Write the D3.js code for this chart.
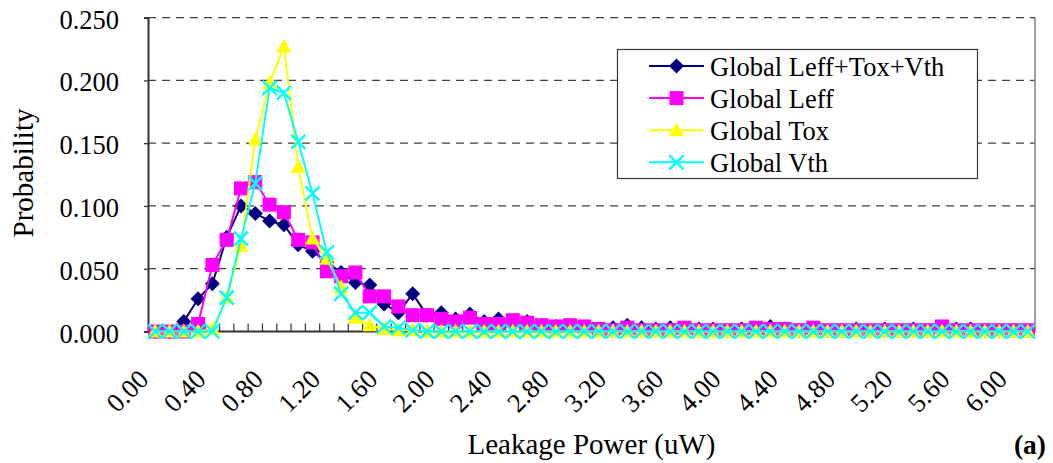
<!DOCTYPE html>
<html>
<head>
<meta charset="utf-8">
<script src="https://cdn.jsdelivr.net/npm/d3@7"></script>
<style>
  html, body { margin: 0; padding: 0; background: #fff; }
  svg { display: block; }
  text { font-family: "Liberation Serif", "Times New Roman", serif; fill: #000; }
</style>
</head>
<body>
<svg id="chart" width="1053" height="463"></svg>
<script>
// ---------- data ----------
const categories = ["0.00","0.10","0.20","0.30","0.40","0.50","0.60","0.70","0.80","0.90",
  "1.00","1.10","1.20","1.30","1.40","1.50","1.60","1.70","1.80","1.90",
  "2.00","2.10","2.20","2.30","2.40","2.50","2.60","2.70","2.80","2.90",
  "3.00","3.10","3.20","3.30","3.40","3.50","3.60","3.70","3.80","3.90",
  "4.00","4.10","4.20","4.30","4.40","4.50","4.60","4.70","4.80","4.90",
  "5.00","5.10","5.20","5.30","5.40","5.50","5.60","5.70","5.80","5.90",
  "6.00","6.10"];

const xTickLabels = ["0.00","0.40","0.80","1.20","1.60","2.00","2.40","2.80","3.20",
  "3.60","4.00","4.40","4.80","5.20","5.60","6.00"];
const yTickValues = [0, 0.05, 0.10, 0.15, 0.20, 0.25];

const seriesNames = ["Global Leff+Tox+Vth","Global Leff","Global Tox","Global Vth"];

const globalAll = [0.000,0.000,0.008,0.026,0.038,0.075,0.100,0.094,0.088,0.085,
  0.069,0.064,0.055,0.047,0.039,0.037,0.022,0.015,0.030,0.013,
  0.015,0.010,0.014,0.008,0.010,0.006,0.008,0.005,0.004,0.003,
  0.002,0.002,0.003,0.005,0.003,0.002,0.003,0.002,0.002,0.002,
  0.001,0.002,0.002,0.004,0.002,0.001,0.002,0.001,0.001,0.002,
  0.001,0.002,0.001,0.002,0.001,0.001,0.002,0.002,0.001,0.001,
  0.001,0.001];

const globalLeff = [0.000,0.000,0.000,0.006,0.053,0.073,0.114,0.119,0.101,0.095,
  0.073,0.071,0.048,0.044,0.047,0.028,0.028,0.020,0.013,0.013,
  0.010,0.008,0.011,0.006,0.006,0.009,0.007,0.005,0.004,0.005,
  0.004,0.002,0.001,0.003,0.001,0.001,0.001,0.003,0.001,0.001,
  0.001,0.001,0.003,0.002,0.002,0.001,0.003,0.001,0.001,0.001,
  0.001,0.001,0.001,0.001,0.001,0.004,0.001,0.001,0.001,0.001,
  0.001,0.001];

const globalTox = [0.000,0.000,0.000,0.000,0.002,0.027,0.068,0.153,0.198,0.227,
  0.131,0.074,0.058,0.035,0.011,0.005,0.002,0.001,0.001,0.000,
  0.000,0.000,0.000,0.000,0.000,0.000,0.000,0.000,0.000,0.000,
  0.000,0.000,0.000,0.000,0.000,0.000,0.000,0.000,0.000,0.000,
  0.000,0.000,0.000,0.000,0.000,0.000,0.000,0.000,0.000,0.000,
  0.000,0.000,0.000,0.000,0.000,0.000,0.000,0.000,0.000,0.000,
  0.000,0.000];

const globalVth = [0.000,0.000,0.000,0.000,0.000,0.027,0.074,0.118,0.194,0.190,
  0.151,0.110,0.063,0.030,0.015,0.015,0.004,0.003,0.001,0.000,
  0.000,0.000,0.000,0.000,0.000,0.000,0.000,0.000,0.000,0.000,
  0.000,0.000,0.000,0.000,0.000,0.000,0.000,0.000,0.000,0.000,
  0.000,0.000,0.000,0.000,0.000,0.000,0.000,0.000,0.000,0.000,
  0.000,0.000,0.000,0.000,0.000,0.000,0.000,0.000,0.000,0.000,
  0.000,0.000];

const seriesColors = ["#000080","#FF00FF","#FFFF00","#00FFFF"];
const seriesMarkers = ["diamond","square","triangle","cross"];

// ---------- layout ----------
const svg = d3.select("#chart");
const plotL = 148, plotR = 1035, plotT = 17.6, plotB = 331.5;
const FONT = 26.5;

const x = d3.scaleBand().domain(categories).range([plotL, plotR]).padding(0);
const bw = x.bandwidth();
const cx = c => x(c) + bw / 2;
const y = d3.scaleLinear().domain([0, 0.25]).range([plotB, plotT]);

// gridlines
svg.append("g").selectAll("line")
  .data(yTickValues.filter(v => v > 0))
  .join("line")
  .attr("x1", plotL).attr("x2", plotR)
  .attr("y1", d => y(d)).attr("y2", d => y(d))
  .attr("stroke", "#404040").attr("stroke-width", 1.3)
  .attr("stroke-dasharray", "8,6");

// right border of plot area
svg.append("line")
  .attr("x1", plotR).attr("x2", plotR).attr("y1", plotT).attr("y2", plotB)
  .attr("stroke", "#808080").attr("stroke-width", 1.5);

// y axis
const yAxis = d3.axisLeft(y).tickValues(yTickValues).tickFormat(d3.format(".3f"))
  .tickSize(4).tickPadding(25);
const gy = svg.append("g").attr("transform", `translate(${plotL},0)`).call(yAxis);
gy.select(".domain").attr("stroke", "#333").attr("stroke-width", 2);
gy.selectAll(".tick line").attr("stroke", "#333").attr("stroke-width", 1.3);
gy.selectAll(".tick text").attr("font-size", FONT)
  .attr("font-family", "'Liberation Serif', 'Times New Roman', serif")
  .attr("dy", "0.4em");

// x axis: line + inside ticks at category boundaries
const gx = svg.append("g");
gx.selectAll("line.tk")
  .data(categories.slice(1))
  .join("line").attr("class", "tk")
  .attr("x1", d => x(d)).attr("x2", d => x(d))
  .attr("y1", plotB).attr("y2", plotB - 8)
  .attr("stroke", "#333").attr("stroke-width", 1.2);
gx.append("line")
  .attr("x1", plotL).attr("x2", plotR).attr("y1", plotB).attr("y2", plotB)
  .attr("stroke", "#333").attr("stroke-width", 2);

// x tick labels (rotated)
gx.selectAll("text.xl")
  .data(xTickLabels)
  .join("text").attr("class", "xl")
  .attr("text-anchor", "end")
  .attr("font-size", FONT)
  .attr("transform", d => `translate(${cx(d) - 5},381) rotate(-45)`)
  .text(d => d);

// axis titles
svg.append("text")
  .attr("x", (plotL + plotR) / 2).attr("y", 454)
  .attr("text-anchor", "middle").attr("font-size", 29)
  .text("Leakage Power (uW)");
svg.append("text")
  .attr("transform", `translate(33,173) rotate(-90)`)
  .attr("text-anchor", "middle").attr("font-size", 29)
  .text("Probability");
svg.append("text")
  .attr("x", 1046).attr("y", 454)
  .attr("text-anchor", "end").attr("font-size", 27.5).attr("font-weight", "bold")
  .text("(a)");

// ---------- markers ----------
function drawMarker(g, type, color) {
  if (type === "diamond") {
    g.append("path").attr("d", "M0,-7.5L7.5,0L0,7.5L-7.5,0Z").attr("fill", color);
  } else if (type === "square") {
    g.append("rect").attr("x", -7).attr("y", -7).attr("width", 14).attr("height", 14).attr("fill", color);
  } else if (type === "triangle") {
    g.append("path").attr("d", "M0,-8L7.5,6L-7.5,6Z").attr("fill", color);
  } else {
    g.append("path").attr("d", "M-7,-7L7,7M-7,7L7,-7")
      .attr("stroke", color).attr("stroke-width", 2.4).attr("fill", "none");
  }
}

const allSeries = [globalAll, globalLeff, globalTox, globalVth];
const line = d3.line().x((d, i) => cx(categories[i])).y(d => y(d));

allSeries.forEach((vals, si) => {
  const g = svg.append("g");
  g.append("path").attr("d", line(vals))
    .attr("fill", "none").attr("stroke", seriesColors[si]).attr("stroke-width", 2);
  vals.forEach((v, i) => {
    const m = g.append("g").attr("transform", `translate(${cx(categories[i])},${y(v)})`);
    drawMarker(m, seriesMarkers[si], seriesColors[si]);
  });
});

// ---------- legend ----------
const lg = svg.append("g");
lg.append("rect").attr("x", 617.5).attr("y", 49.5).attr("width", 360).attr("height", 129)
  .attr("fill", "#fff").attr("stroke", "#333").attr("stroke-width", 1.2);
const legendY = d3.scalePoint().domain(seriesNames).range([66, 162.3]);
seriesNames.forEach((name, si) => {
  const ly = legendY(name);
  lg.append("line").attr("x1", 649).attr("x2", 704).attr("y1", ly).attr("y2", ly)
    .attr("stroke", seriesColors[si]).attr("stroke-width", 2);
  const m = lg.append("g").attr("transform", `translate(676.5,${ly})`);
  drawMarker(m, seriesMarkers[si], seriesColors[si]);
  lg.append("text").attr("x", 710).attr("y", ly + 10).attr("font-size", FONT).text(name);
});
</script>
</body>
</html>
